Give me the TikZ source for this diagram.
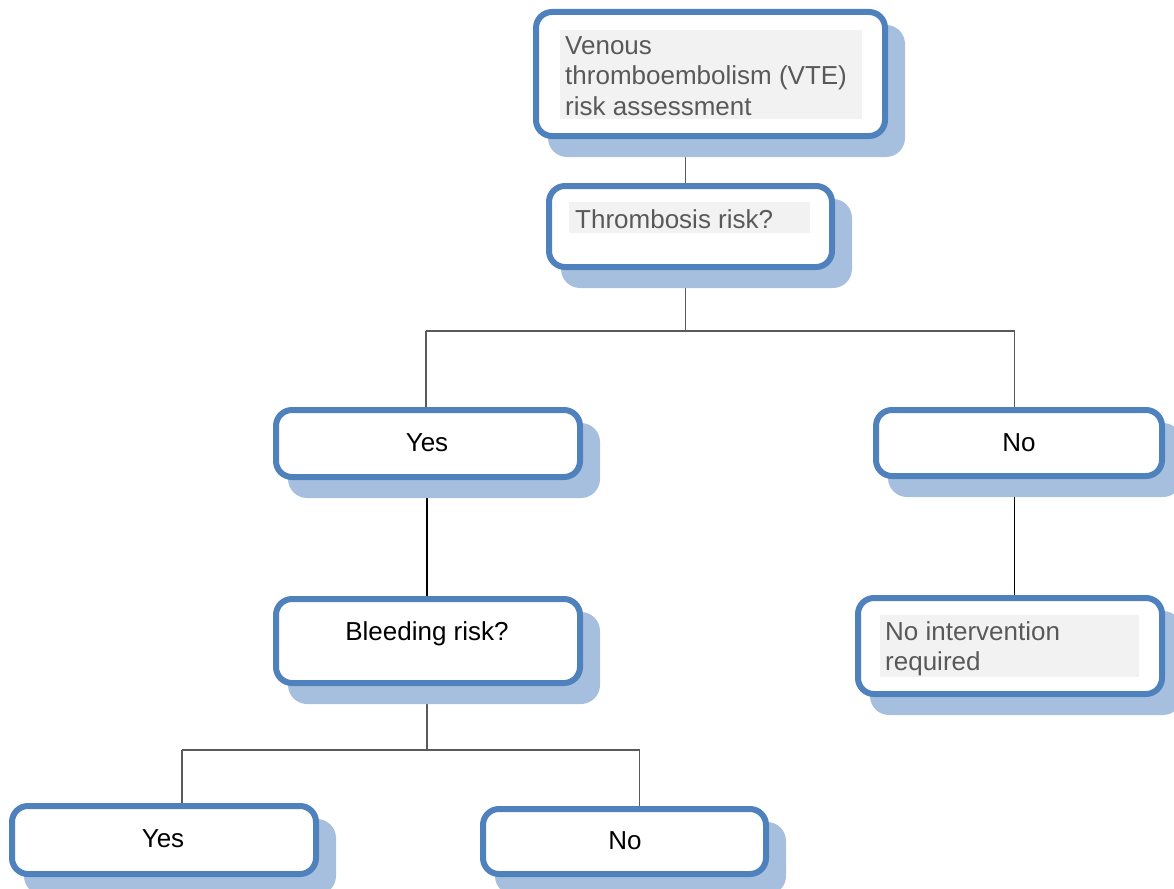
\documentclass[tikz,border=0pt]{standalone}
\usepackage{fontspec}
\setmainfont{Liberation Sans}
\usetikzlibrary{calc}
\definecolor{boxblue}{HTML}{4F81BD}
\definecolor{shadowblue}{HTML}{A7BFDE}
\definecolor{bggray}{HTML}{F2F2F2}
\definecolor{txtgray}{HTML}{595959}
\definecolor{linegray}{HTML}{5A5A5A}
\pgfdeclarelayer{lines}
\pgfdeclarelayer{shadows}
\pgfsetlayers{lines,shadows,main}
\newcommand\boxshadow[1]{\fill[shadowblue,rounded corners=19pt] ($(#1.north west)+(12,13)$) rectangle ($(#1.south east)+(20,21)$);}
\tikzset{
  box/.style={draw=boxblue,line width=6pt,fill=white,rounded corners=16pt,inner sep=0pt,outer sep=0pt},
  txt/.style={font=\fontsize{26}{30}\selectfont,inner sep=0pt,text=black},
  gtxt/.style={txt,text=txtgray,align=left},
  gline/.style={draw=linegray,line width=1.8pt},
  bline/.style={draw=black,line width=1.8pt}
}
\begin{document}
\begin{tikzpicture}[x=1pt,y=-1pt]
\useasboundingbox (0,0) rectangle (1174,888);
% boxes
\node[box,minimum width=349pt,minimum height=124pt] (vte) at (710.5,74) {};
\node[box,minimum width=283pt,minimum height=81pt] (thr) at (690.5,226.5) {};
\node[box,minimum width=304pt,minimum height=67pt] (yes1) at (428,443.5) {};
\node[box,minimum width=286pt,minimum height=66pt] (no1) at (1019,443) {};
\node[box,minimum width=304pt,minimum height=84pt] (bleed) at (428,641) {};
\node[box,minimum width=304pt,minimum height=96pt] (noint) at (1010,646) {};
\node[box,minimum width=304pt,minimum height=68pt] (yes2) at (164,840) {};
\node[box,minimum width=283pt,minimum height=65pt] (no2) at (624.5,841.5) {};
% gray text backgrounds
\fill[bggray] (560,30) rectangle (862,119);
\fill[bggray] (569,202) rectangle (810,233);
\fill[bggray] (880,615) rectangle (1139,677);
% texts (multi-line nodes: base = last line)
\node[gtxt,anchor=base west] (tvte) at (565,115) {Venous\\thromboembolism (VTE)\\risk assessment};
\node[gtxt,anchor=base west] (tthr) at (575,228) {Thrombosis risk?};
\node[txt,anchor=base] (tyes1) at (427,451) {Yes};
\node[txt,anchor=base] (tno1) at (1019,451) {No};
\node[txt,anchor=base] (tbleed) at (427,640) {Bleeding risk?};
\node[gtxt,anchor=base west] (tnoint) at (885,670) {No intervention\\required};
\node[txt,anchor=base] (tyes2) at (163,847) {Yes};
\node[txt,anchor=base] (tno2) at (625,849) {No};
% shadows
\begin{pgfonlayer}{shadows}
\boxshadow{vte}\boxshadow{thr}\boxshadow{yes1}\boxshadow{no1}
\boxshadow{bleed}\boxshadow{noint}\boxshadow{yes2}\boxshadow{no2}
\end{pgfonlayer}
% connectors
\begin{pgfonlayer}{lines}
\coordinate (j1) at (685.5,331);
\coordinate (j1l) at (426,331);
\coordinate (j1r) at (1014.5,331);
\coordinate (j3) at (1014.5,540);
\coordinate (j2) at (427,750);
\coordinate (j2l) at (182,750);
\coordinate (j2r) at (639.5,750);
\draw[gline] (vte.center -| j1) -- (thr.center -| j1) -- (j1);
\draw[gline] (j1l) -- (j1r);
\draw[gline] (j1l) -- (yes1.center -| j1l);
\draw[gline] (j1r) -- (no1.center -| j1r);
\draw[bline] (yes1.center -| j2) -- (bleed.center -| j2);
\draw[bline] (no1.center -| j3) -- (noint.center -| j3);
\draw[gline] (bleed.center -| j2) -- (j2);
\draw[gline] (j2l) -- (j2r);
\draw[gline] (j2l) -- (yes2.center -| j2l);
\draw[gline] (j2r) -- (no2.center -| j2r);
\end{pgfonlayer}
\end{tikzpicture}
\end{document}
